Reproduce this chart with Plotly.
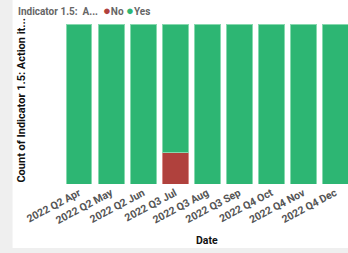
import plotly.graph_objects as go

dates = ["2022 Q2 Apr", "2022 Q2 May", "2022 Q2 Jun", "2022 Q3 Jul", "2022 Q3 Aug",
         "2022 Q3 Sep", "2022 Q4 Oct", "2022 Q4 Nov", "2022 Q4 Dec"]
no_counts = [0, 0, 0, 1, 0, 0, 0, 0, 0]
yes_counts = [5, 5, 5, 4, 5, 5, 5, 5, 5]
series_names = ["No", "Yes"]
legend_title = "Indicator 1.5:  A..."

GREEN = "#2db673"
RED = "#b0413d"
W, H = 348, 253
L, T, PB = 62.5, 24, 184
PW = W - L
PH = PB - T

def px_x(p):
    return (p - L) / PW

def px_y(p):
    return (PB - p) / PH

fig = go.Figure()
fig.add_trace(go.Bar(x=dates, y=no_counts, name=series_names[0],
                     marker=dict(color=RED, line=dict(color="#d98a86", width=1))))
fig.add_trace(go.Bar(x=dates, y=yes_counts, name=series_names[1],
                     marker=dict(color=GREEN, line=dict(color="#86d9ae", width=1))))

legend_text = (f"<b>{legend_title}</b>  "
               f"<span style='color:{RED};font-size:13px'>●</span><b>{series_names[0]}</b> "
               f"<span style='color:{GREEN};font-size:13px'>●</span><b>{series_names[1]}</b>")

fig.update_layout(
    width=W, height=H,
    barmode="stack", bargap=0.19,
    showlegend=False,
    margin=dict(l=L, r=0, t=T, b=H - PB, autoexpand=False),
    paper_bgcolor="#efefef", plot_bgcolor="white",
    font=dict(family="Roboto, Arial, sans-serif", size=9, color="#555555"),
    xaxis=dict(range=[-0.5, 8.4], tickangle=-28, showline=False, ticks="",
               tickfont=dict(size=10.5, color="#555555", weight="bold"), showgrid=False),
    yaxis=dict(range=[0, 5.0], showticklabels=False, showgrid=False, zeroline=False, ticks=""),
    shapes=[dict(type="rect", xref="paper", yref="paper", x0=px_x(12), x1=px_x(W + 5),
                 y0=px_y(248), y1=px_y(-5), fillcolor="white", line=dict(width=0), layer="below")],
    annotations=[
        dict(text=legend_text, xref="paper", yref="paper", x=px_x(15), y=px_y(10),
             xanchor="left", yanchor="middle", showarrow=False,
             font=dict(size=10, color="#666666")),
        dict(text="Count of Indicator 1.5: Action it...", xref="paper", yref="paper",
             x=px_x(20), y=px_y(101), textangle=-90, showarrow=False,
             font=dict(size=11, color="#111111", weight="bold"), xanchor="center", yanchor="middle"),
        dict(text="Date", xref="paper", yref="paper", x=px_x(207), y=px_y(240), showarrow=False,
             font=dict(size=10.5, color="#111111", weight="bold"), xanchor="center", yanchor="middle"),
    ],
)

fig.write_html("out.html", config={"displayModeBar": False})
with open("out.html", "r", encoding="utf-8") as f:
    html = f.read()
html = html.replace("<body>", '<body style="margin:0;padding:0;overflow:hidden">', 1)
with open("out.html", "w", encoding="utf-8") as f:
    f.write(html)
